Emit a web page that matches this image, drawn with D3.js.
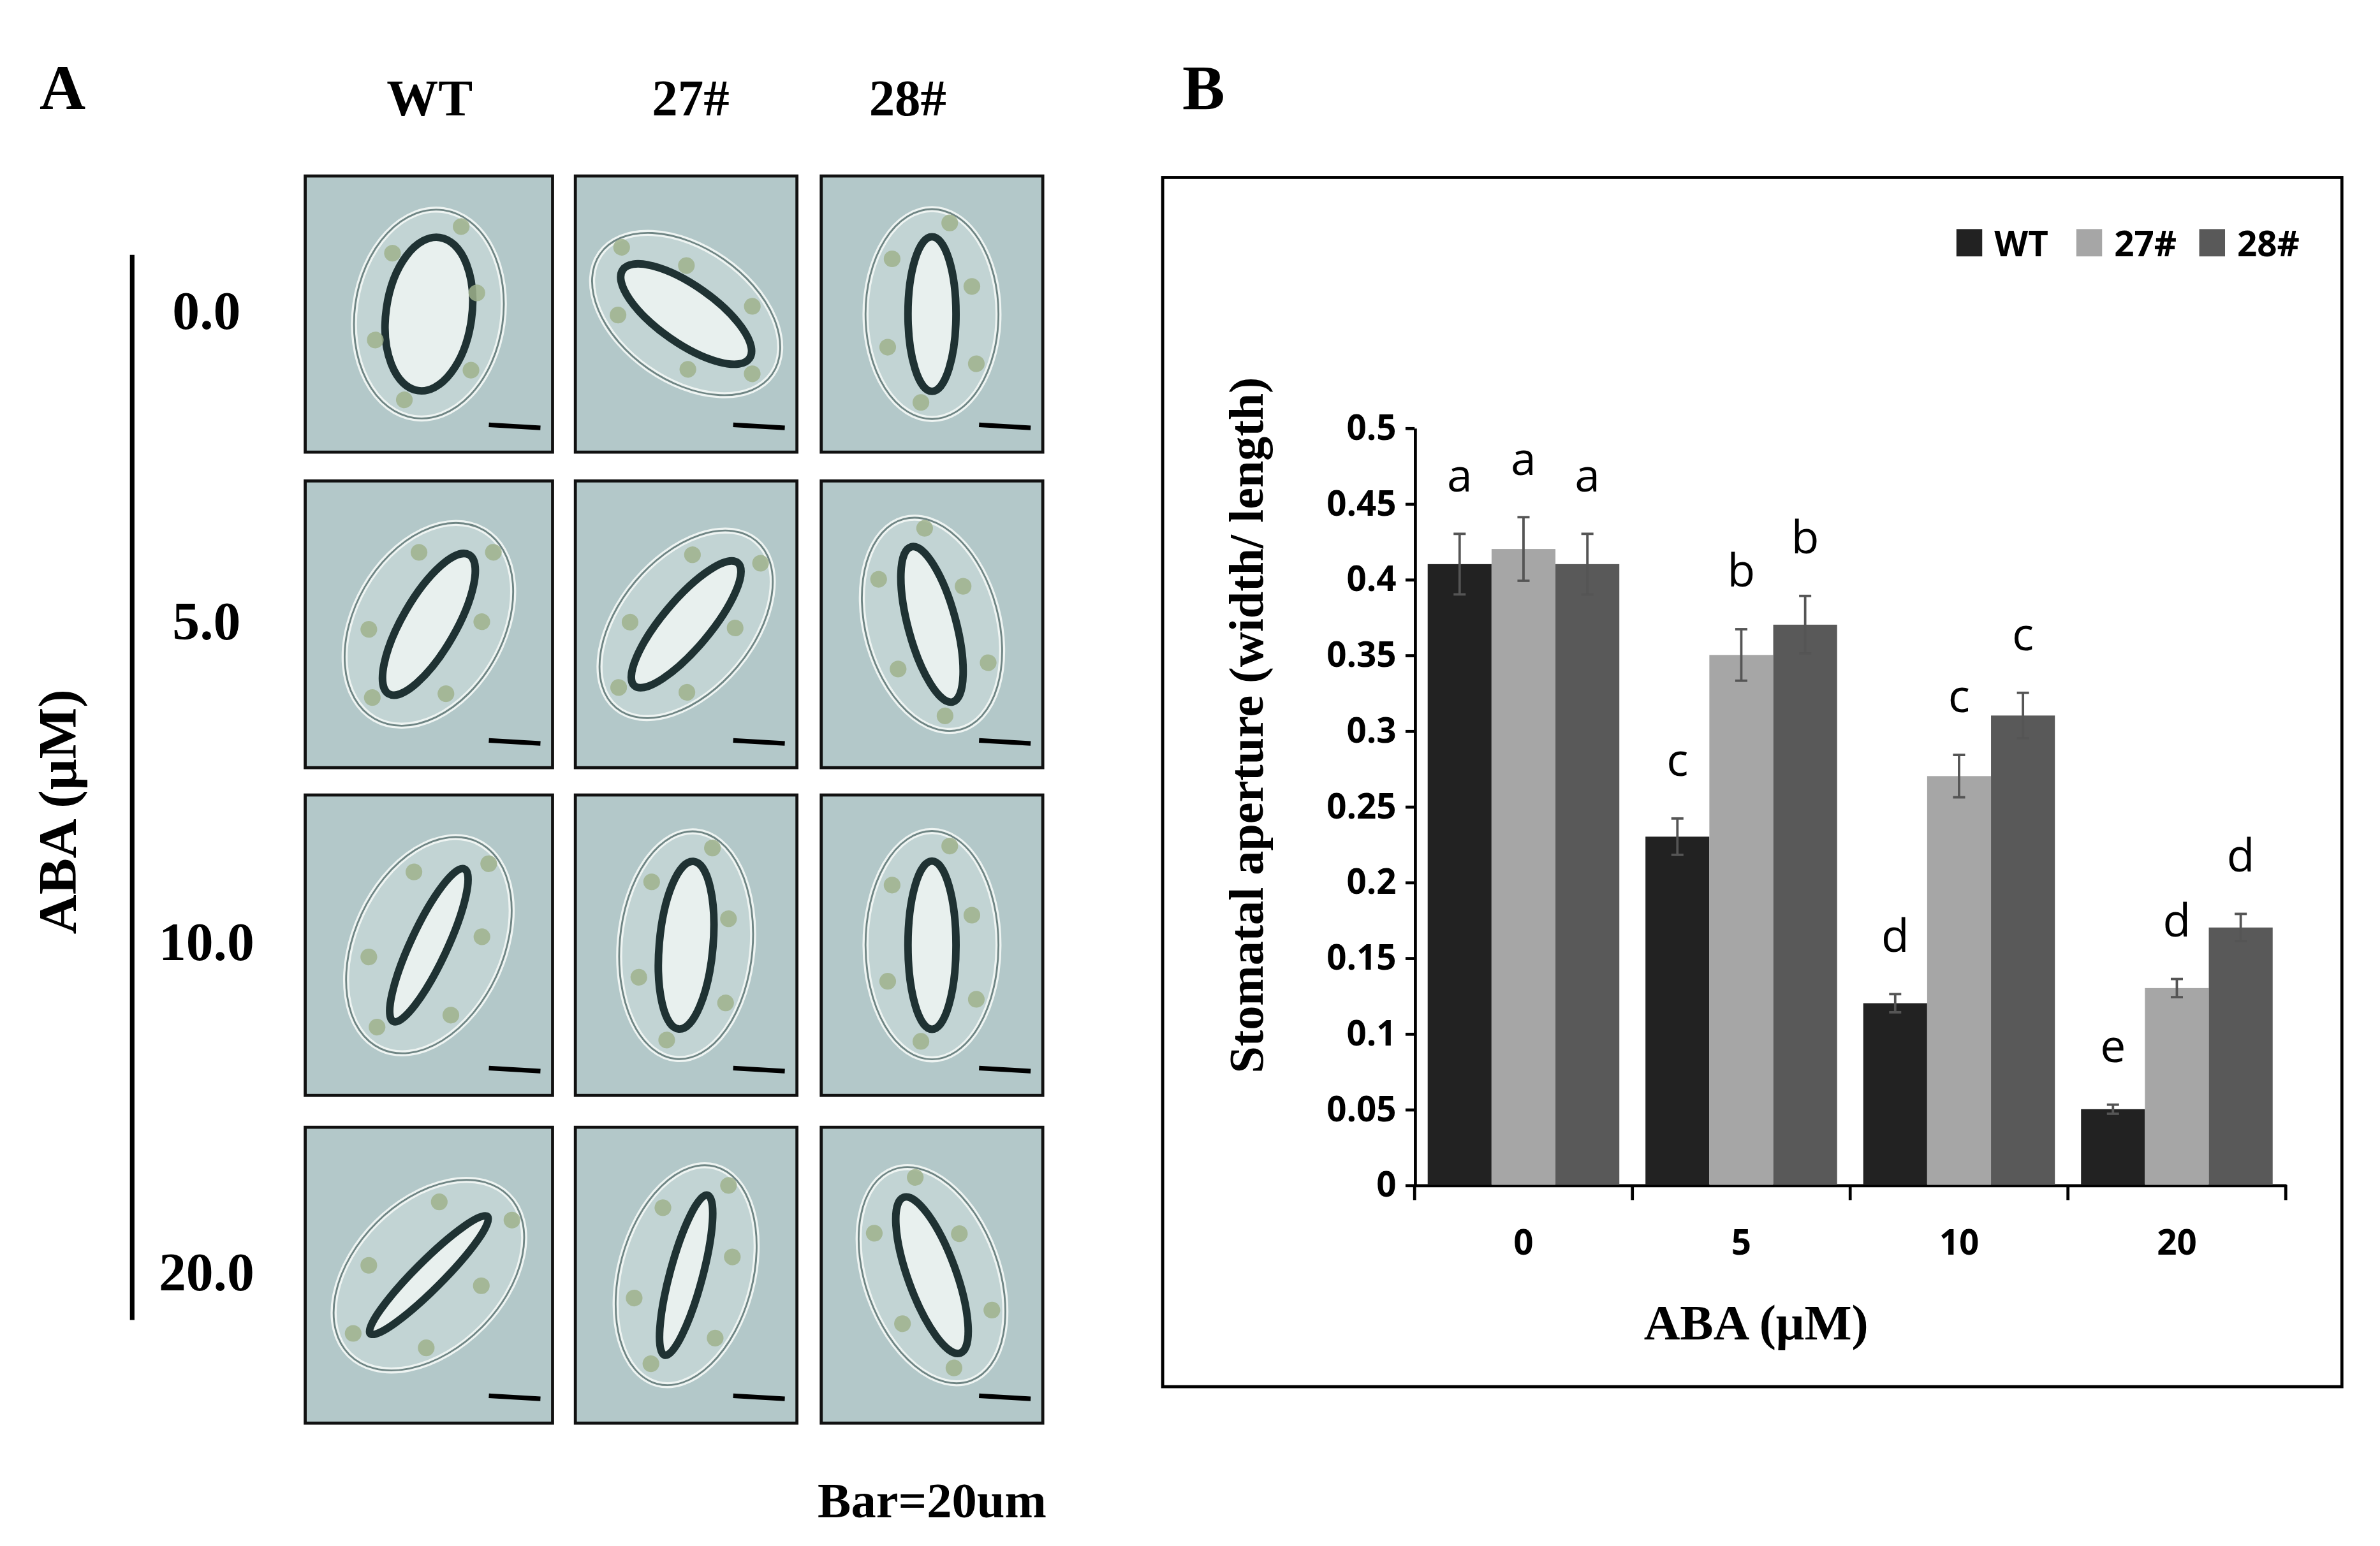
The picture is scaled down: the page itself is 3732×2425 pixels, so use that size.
<!DOCTYPE html>
<html><head><meta charset="utf-8">
<script src="https://cdn.jsdelivr.net/npm/d3@7"></script>
<style>body{margin:0;background:#fff}</style></head>
<body><svg id="fig" width="3732" height="2425" viewBox="0 0 1568 1019"></svg>
<script>
// chart data
const doses = ["0", "5", "10", "20"];
const lines = ["WT", "27#", "28#"];
const colors = ["#222222", "#a6a6a6", "#595959"];
const values = {
  "WT":  [0.41, 0.23, 0.12, 0.05],
  "27#": [0.42, 0.35, 0.27, 0.13],
  "28#": [0.41, 0.37, 0.31, 0.17]
};
const errors = {
  "WT":  [0.020, 0.012, 0.006, 0.003],
  "27#": [0.021, 0.017, 0.014, 0.006],
  "28#": [0.020, 0.019, 0.015, 0.009]
};
const letters = {
  "WT":  ["a", "c", "d", "e"],
  "27#": ["a", "b", "c", "d"],
  "28#": ["a", "b", "c", "d"]
};
const yTicks = [0, 0.05, 0.1, 0.15, 0.2, 0.25, 0.3, 0.35, 0.4, 0.45, 0.5];
// panel A labels
const rowLabels = ["0.0", "5.0", "10.0", "20.0"];
// pore angle (deg) and openness for each micrograph, row by row
const pores = [
  [[8, 0.4], [-55, 0.3], [0, 0.25]],
  [[30, 0.25], [40, 0.25], [-15, 0.25]],
  [[25, 0.17], [5, 0.28], [0, 0.25]],
  [[45, 0.13], [15, 0.17], [-20, 0.25]]
];

const svg = d3.select('#fig');
const serif = "'Liberation Serif','Times New Roman',serif";
const sans = "'Open Sans','Noto Sans',sans-serif";

// ---------- Panel A ----------
svg.append('text').text('A').attr('x', 26).attr('y', 72)
  .style('font-family', serif).style('font-weight', 'bold').style('font-size', '42px');

const colX = [201, 379, 541], colW = [163, 146, 146];
const rowY = [116, 317, 524, 743], rowH = [182, 189, 198, 195];
const headerX = [283, 455, 598];
lines.forEach((l, i) => svg.append('text').text(l).attr('x', headerX[i]).attr('y', 76)
  .attr('text-anchor', 'middle').style('font-family', serif).style('font-weight', 'bold').style('font-size', '34px'));

svg.append('line').attr('x1', 87).attr('x2', 87).attr('y1', 168).attr('y2', 870)
  .style('stroke', '#000').style('stroke-width', 3);
svg.append('text').text('ABA (μM)').attr('transform', 'translate(50,535) rotate(-90)')
  .attr('text-anchor', 'middle').style('font-family', serif).style('font-weight', 'bold').style('font-size', '36px');

rowLabels.forEach((r, ri) => {
  svg.append('text').text(r).attr('x', 136).attr('y', rowY[ri] + rowH[ri] / 2 + 10)
    .attr('text-anchor', 'middle').style('font-family', serif).style('font-weight', 'bold').style('font-size', '36px');
  pores[ri].forEach((p, ci) => {
    const x = colX[ci], y = rowY[ri], w = colW[ci], h = rowH[ri];
    const g = svg.append('g');
    g.append('rect').attr('x', x).attr('y', y).attr('width', w).attr('height', h)
      .attr('fill', '#b3c8c9').attr('stroke', '#111').attr('stroke-width', 2);
    const cx = x + w / 2, cy = y + h / 2;
    const cell = g.append('g').attr('transform', `translate(${cx},${cy}) rotate(${p[0]})`);
    cell.append('ellipse').attr('rx', w * 0.3).attr('ry', h * 0.38)
      .attr('fill', '#c2d4d4').attr('stroke', '#eef4f2').attr('stroke-width', 4);
    cell.append('ellipse').attr('rx', w * 0.3).attr('ry', h * 0.38)
      .attr('fill', 'none').attr('stroke', '#6f8584').attr('stroke-width', 1.2);
    cell.append('ellipse').attr('rx', w * 0.13 * p[1] / 0.3).attr('ry', h * 0.28)
      .attr('fill', '#e8f0ee').attr('stroke', '#1f3233').attr('stroke-width', 5);
    [[-0.18, -0.2], [0.18, -0.1], [-0.2, 0.12], [0.2, 0.18], [-0.05, 0.32], [0.08, -0.33]].forEach(d =>
      cell.append('circle').attr('cx', d[0] * w).attr('cy', d[1] * h).attr('r', 5.5)
        .attr('fill', '#9fb28c').attr('opacity', 0.85));
    g.append('line').attr('x1', x + w - 42).attr('x2', x + w - 8).attr('y1', y + h - 18).attr('y2', y + h - 16)
      .style('stroke', '#000').style('stroke-width', 3);
  });
});
svg.append('text').text('Bar=20um').attr('x', 614).attr('y', 1000).attr('text-anchor', 'middle')
  .style('font-family', serif).style('font-weight', 'bold').style('font-size', '33px');

// ---------- Panel B ----------
svg.append('text').text('B').attr('x', 779).attr('y', 72)
  .style('font-family', serif).style('font-weight', 'bold').style('font-size', '42px');
svg.append('rect').attr('x', 766).attr('y', 117).attr('width', 777).attr('height', 797)
  .attr('fill', 'none').attr('stroke', '#000').attr('stroke-width', 2);

const x0 = d3.scaleBand().domain(doses).range([932, 1506]).paddingInner(0.12).paddingOuter(0.06);
const xOuter = d3.scaleBand().domain(doses).range([932, 1506]);
const x1 = d3.scaleBand().domain(lines).range([0, x0.bandwidth()]);
const y = d3.scaleLinear().domain([0, 0.5]).range([781, 282]);

const yAxis = svg.append('g').attr('transform', 'translate(932,0)')
  .call(d3.axisLeft(y).tickValues(yTicks).tickFormat(d => d3.format('')(+d.toFixed(2))).tickSize(6).tickSizeOuter(0));
yAxis.selectAll('text').style('font-family', sans).style('font-weight', 'bold').style('font-size', '23px').attr('x', -12);
yAxis.select('.domain').style('stroke-width', 2);
yAxis.selectAll('.tick line').style('stroke-width', 2);

const xAxis = svg.append('g').attr('transform', 'translate(0,781)')
  .call(d3.axisBottom(xOuter).tickSize(0).tickSizeOuter(0));
xAxis.select('.domain').style('stroke-width', 2);
xAxis.selectAll('text').attr('dy', 0).attr('y', 46).style('font-family', sans).style('font-weight', 'bold').style('font-size', '23px');
xAxis.selectAll('.sep').data(d3.range(doses.length + 1)).join('line')
  .attr('x1', i => 932 + i * xOuter.step()).attr('x2', i => 932 + i * xOuter.step())
  .attr('y1', 0).attr('y2', 10).style('stroke', '#000').style('stroke-width', 2);

lines.forEach((l, li) => {
  doses.forEach((d, di) => {
    const v = values[l][di], e = errors[l][di];
    const bx = x0(d) + x1(l), bw = x1.bandwidth(), cx = bx + bw / 2;
    svg.append('rect').attr('x', bx).attr('y', y(v)).attr('width', bw).attr('height', y(0) - y(v)).attr('fill', colors[li]);
    const eb = svg.append('g').style('stroke', '#555').style('stroke-width', 1.6);
    eb.append('line').attr('x1', cx).attr('x2', cx).attr('y1', y(v - e)).attr('y2', y(v + e));
    eb.append('line').attr('x1', cx - 4).attr('x2', cx + 4).attr('y1', y(v - e)).attr('y2', y(v - e));
    eb.append('line').attr('x1', cx - 4).attr('x2', cx + 4).attr('y1', y(v + e)).attr('y2', y(v + e));
    svg.append('text').text(letters[l][di]).attr('x', cx).attr('y', y(v + e) - 28)
      .attr('text-anchor', 'middle').style('font-family', sans).style('font-size', '30px');
  });
});

svg.append('text').text('Stomatal aperture (width/ length)').attr('transform', 'translate(832,478) rotate(-90)')
  .attr('text-anchor', 'middle').style('font-family', serif).style('font-weight', 'bold').style('font-size', '32px');
svg.append('text').text('ABA (μM)').attr('x', 1157).attr('y', 883).attr('text-anchor', 'middle')
  .style('font-family', serif).style('font-weight', 'bold').style('font-size', '33px');

// legend
const legX = [1289, 1368, 1449];
lines.forEach((l, i) => {
  svg.append('rect').attr('x', legX[i]).attr('y', 151).attr('width', 17).attr('height', 18).attr('fill', colors[i]);
  svg.append('text').text(l).attr('x', legX[i] + 25).attr('y', 169)
    .style('font-family', sans).style('font-weight', 'bold').style('font-size', '23px');
});
</script></body></html>
